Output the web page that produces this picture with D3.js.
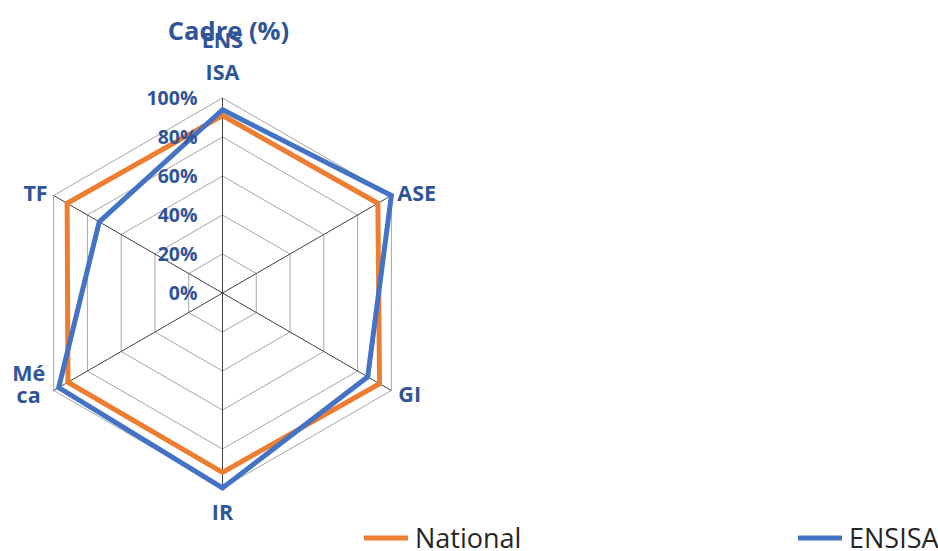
<!DOCTYPE html>
<html>
<head>
<meta charset="utf-8">
<script src="https://cdn.jsdelivr.net/npm/d3@7"></script>
<style>
  body { margin: 0; background: #fff; }
  text { font-family: "Open Sans", sans-serif; }
</style>
</head>
<body>
<div id="chart"></div>
<script>
var svgWidth = 938;
var svgHeight = 551;

// data
var categories = ["ENS ISA", "ASE", "GI", "IR", "Mé ca", "TF"];
var nationalValues = [91, 92, 93, 92, 91.5, 92];
var ensisaValues = [94, 100, 86, 100, 97, 73];
var tickValues = [0, 20, 40, 60, 80, 100];
var seriesNames = ["National", "ENSISA"];

var textBlue = "#2F5597";
var colors = ["#ED7D31", "#4472C4"];

var cx = 222.5, cy = 293, radius = 195;

var svg = d3.select("#chart")
  .append("svg")
  .attr("width", svgWidth)
  .attr("height", svgHeight);

var chartGroup = svg.append("g")
  .attr("transform", `translate(${cx}, ${cy})`);

var rScale = d3.scaleLinear()
  .domain([0, 100])
  .range([0, radius]);

var angle = d3.scalePoint()
  .domain(d3.range(categories.length + 1))
  .range([0, 2 * Math.PI]);

function point(i, v) {
  var a = angle(i % categories.length);
  return [Math.sin(a) * rScale(v), -Math.cos(a) * rScale(v)];
}

// ring gridlines
var ringLine = d3.line();
chartGroup.selectAll(".ring")
  .data(tickValues.slice(1))
  .enter()
  .append("path")
  .attr("class", "ring")
  .attr("d", t => ringLine(categories.map((c, i) => point(i, t))) + "Z")
  .attr("fill", "none")
  .attr("stroke", "#a6a6a6")
  .attr("stroke-width", 1);

// spokes
chartGroup.selectAll(".spoke")
  .data(categories)
  .enter()
  .append("line")
  .attr("class", "spoke")
  .attr("x1", 0)
  .attr("y1", 0)
  .attr("x2", (c, i) => point(i, 100)[0])
  .attr("y2", (c, i) => point(i, 100)[1])
  .attr("stroke", "#404040")
  .attr("stroke-width", 1);

// series
var radarLine = d3.lineRadial()
  .angle((d, i) => angle(i))
  .radius(d => rScale(d))
  .curve(d3.curveLinearClosed);

chartGroup.selectAll(".series")
  .data([nationalValues, ensisaValues])
  .enter()
  .append("path")
  .attr("class", "series")
  .attr("d", d => radarLine(d))
  .attr("fill", "none")
  .attr("stroke", (d, i) => colors[i])
  .attr("stroke-width", 5)
  .attr("stroke-linejoin", "miter");

// tick labels on the vertical axis
chartGroup.selectAll(".tick-label")
  .data(tickValues)
  .enter()
  .append("text")
  .attr("class", "tick-label")
  .attr("x", -25)
  .attr("y", d => -rScale(d))
  .attr("dy", "0.36em")
  .attr("text-anchor", "end")
  .attr("font-size", 19.5)
  .attr("font-weight", "bold")
  .attr("fill", textBlue)
  .text(d => d + "%");

// category labels (first line baseline + line step, wrapped like excel)
chartGroup.selectAll(".cat-label")
  .data(categories)
  .enter()
  .append("text")
  .attr("class", "cat-label")
  .attr("font-size", 21.5)
  .attr("font-weight", "bold")
  .attr("fill", textBlue)
  .each(function(c, i) {
    var p = point(i, 100);
    var sel = d3.select(this);
    var lines = c.split(" ");
    var x = p[0], y = p[1], anchor = "middle", step = 22;
    if (i === 0) { y = p[1] - 50; step = 32; }
    else if (i === 1) { x = p[0] + 6; y = p[1] + 5; anchor = "start"; }
    else if (i === 2) { x = p[0] + 7; y = p[1] + 11; anchor = "start"; }
    else if (i === 3) { y = p[1] + 32; }
    else if (i === 4) { x = p[0] - 25; y = p[1] - 10; }
    else if (i === 5) { x = p[0] - 6; y = p[1] + 5; anchor = "end"; }
    sel.attr("text-anchor", anchor);
    lines.forEach(function(l, k) {
      sel.append("tspan")
        .attr("x", x)
        .attr("y", y + k * step)
        .text(l);
    });
  });

// title
svg.append("text")
  .attr("x", 228.5)
  .attr("y", 40)
  .attr("text-anchor", "middle")
  .attr("font-size", 25.5)
  .attr("font-weight", "bold")
  .attr("fill", textBlue)
  .text("Cadre (%)");

// legend
var legendX = [364, 798];
var legend = svg.selectAll(".legend")
  .data(seriesNames)
  .enter()
  .append("g")
  .attr("class", "legend")
  .attr("transform", (d, i) => `translate(${legendX[i]}, 538)`);

legend.append("line")
  .attr("x1", 0)
  .attr("x2", 44)
  .attr("y1", 0)
  .attr("y2", 0)
  .attr("stroke", (d, i) => colors[i])
  .attr("stroke-width", 5);

legend.append("text")
  .attr("x", 51)
  .attr("y", 10)
  .attr("font-size", 27)
  .attr("fill", "#262626")
  .text(d => d);
</script>
</body>
</html>
